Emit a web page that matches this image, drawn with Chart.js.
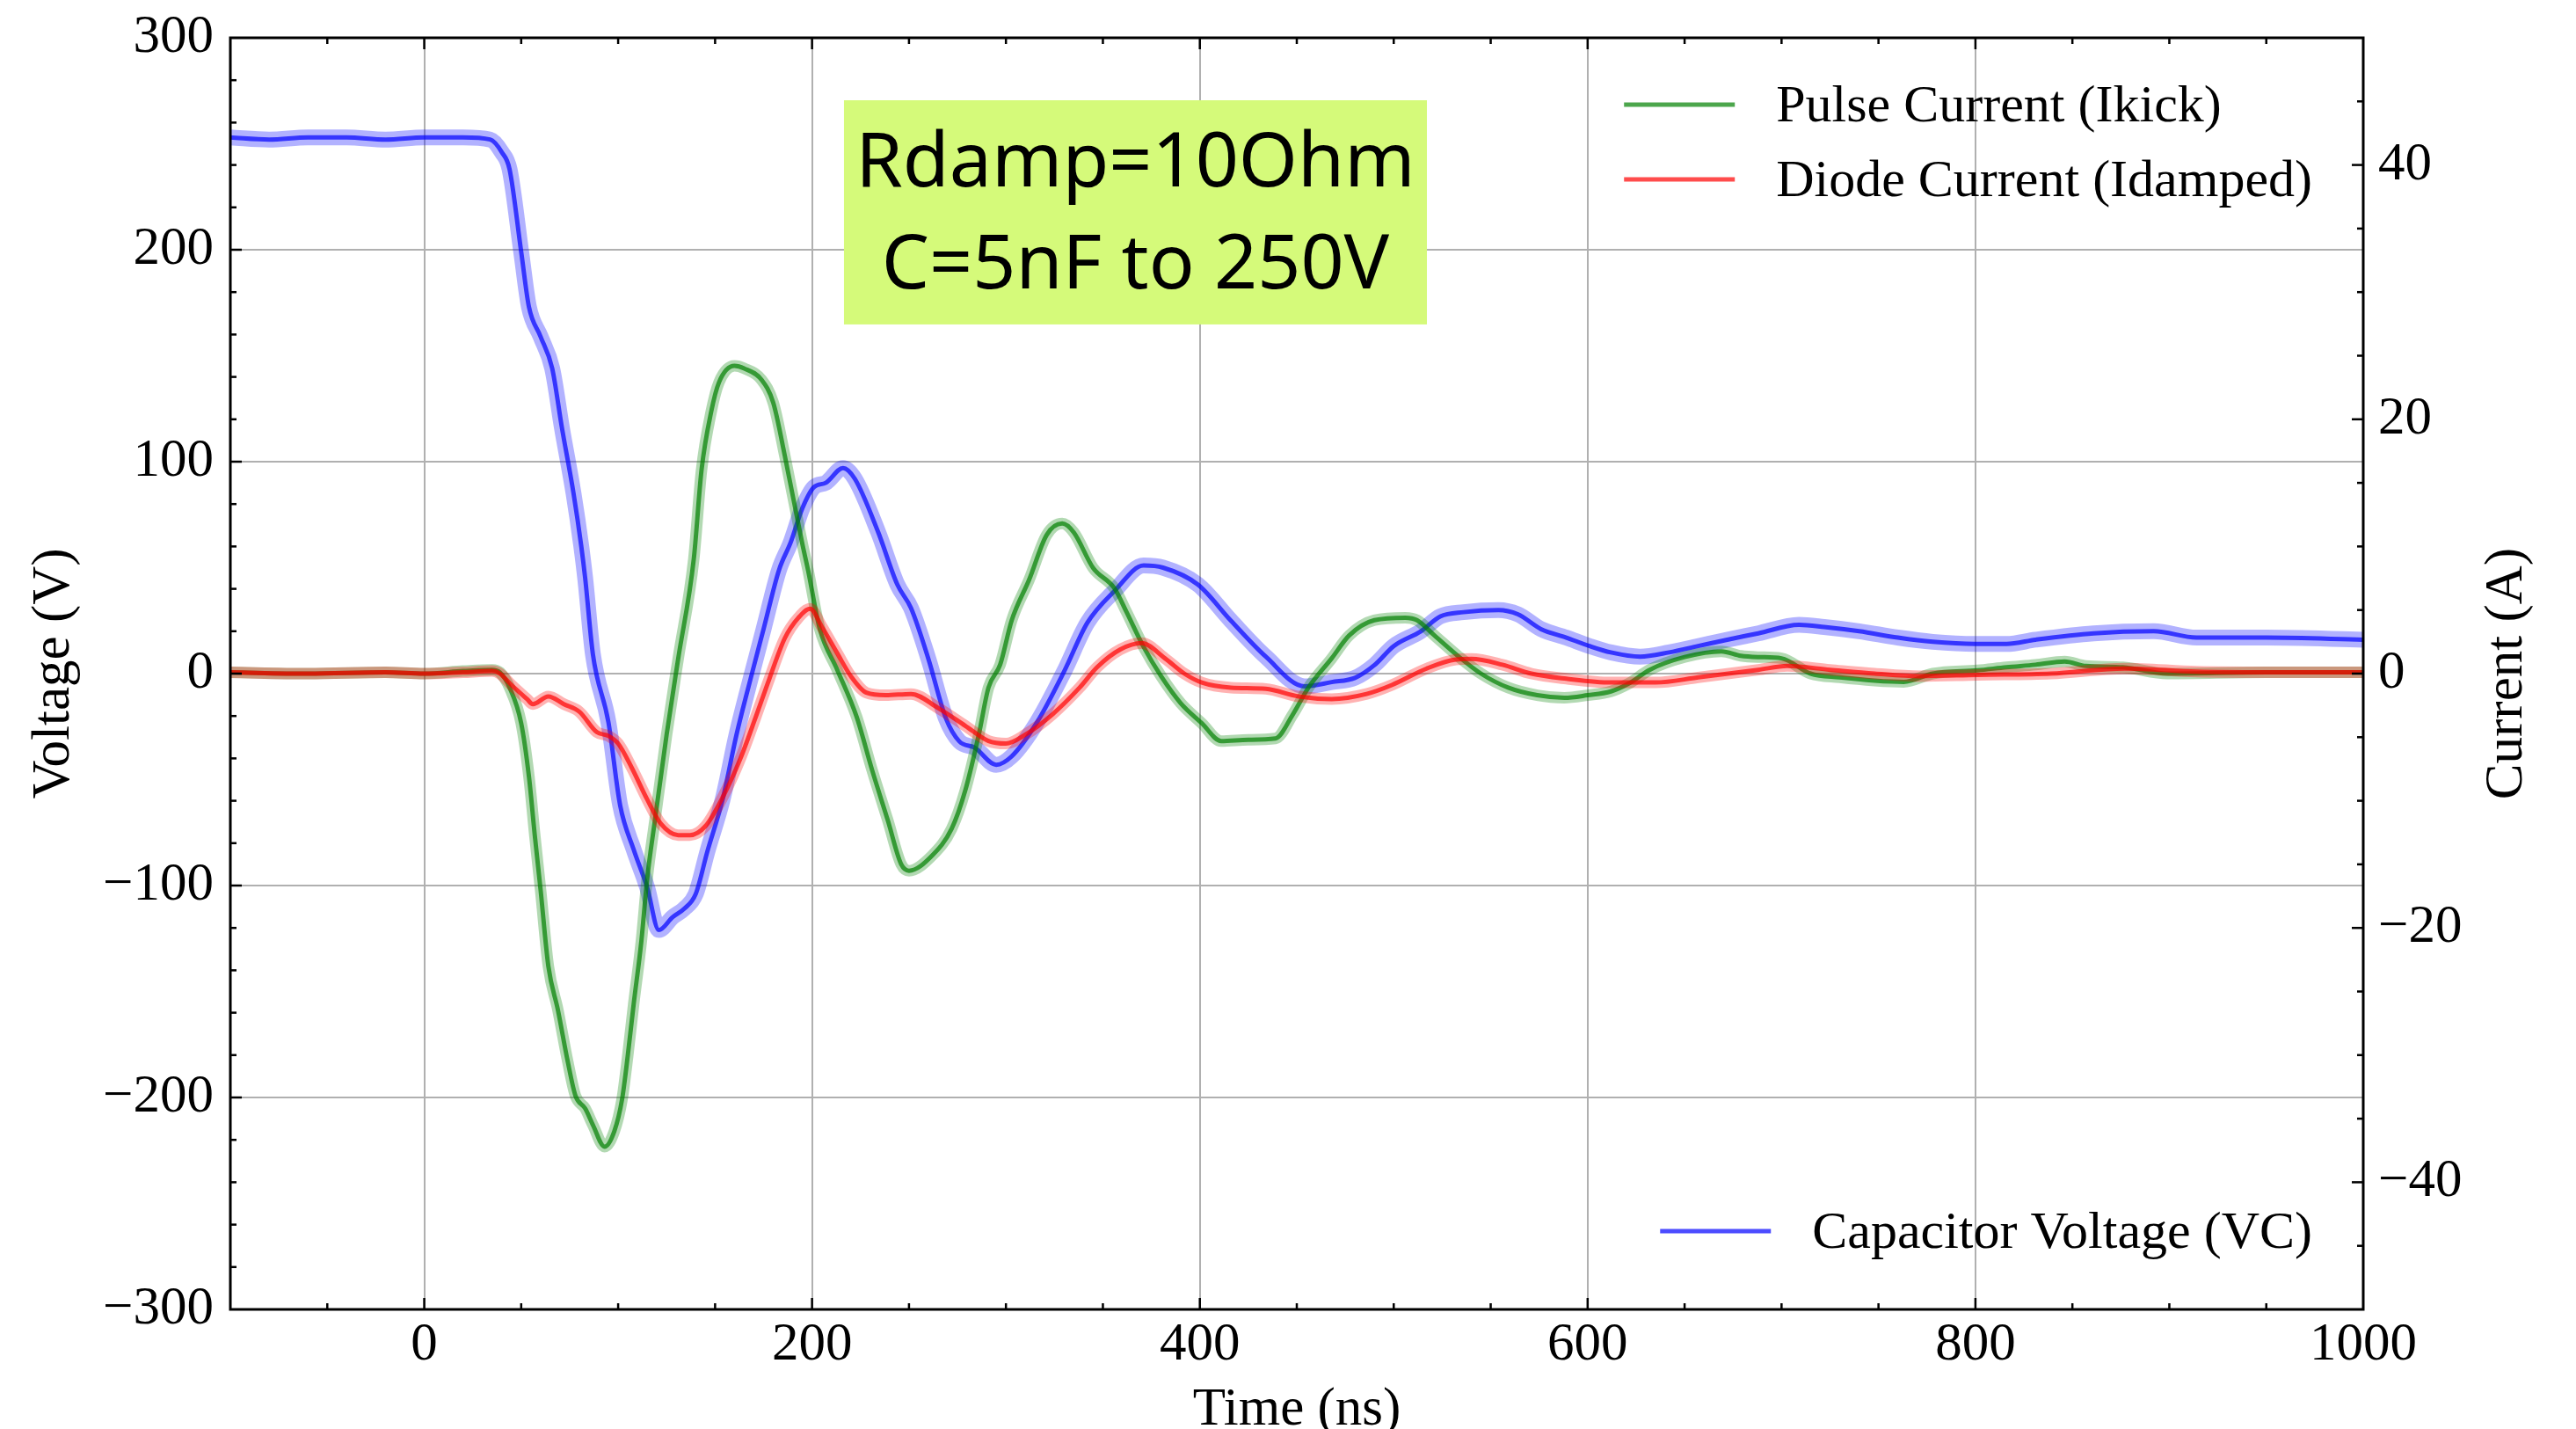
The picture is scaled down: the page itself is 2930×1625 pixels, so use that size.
<!DOCTYPE html>
<html>
<head>
<meta charset="utf-8">
<script src="https://cdn.jsdelivr.net/npm/chart.js@4.4.1/dist/chart.umd.min.js"></script>
<style>
  html, body { margin: 0; padding: 0; background: #fff; }
  canvas { display: block; }
</style>
</head>
<body>
<canvas id="scopeChart" width="2930" height="1625"></canvas>
<script>
// Scope capture of the kicker pulse, damped with 10 Ohm

// capacitor voltage (left axis, V)
const vcTime = [-100, -80, -60, -40, -20, 0, 20, 34, 40, 44, 50, 54, 60, 66, 71, 77, 81, 83, 87, 95, 101, 108, 115, 121, 128, 134, 140, 146, 154, 161, 169, 175, 183, 189, 195, 201, 207, 216, 222, 234, 244, 251, 260, 269, 276, 284, 295, 303, 316, 330, 342, 356, 371, 381, 399, 416, 434, 454, 468, 480, 490, 500, 514, 524, 536, 554, 564, 576, 589, 601, 612, 627, 642, 657, 672, 688, 709, 722, 740, 760, 778, 800, 816, 831, 861, 892, 914, 950, 1000];
const vcVolts = [253, 252, 253, 253, 252, 253, 253, 252, 246, 238, 199, 173, 159, 144, 116, 85, 60, 45, 9, -23, -62, -83, -101, -121, -115, -111, -104, -84, -59, -29, 0, 21, 49, 62, 78, 88, 90, 97, 92, 67, 42, 31, 7, -21, -32, -35, -43, -39, -23, 1, 24, 39, 51, 50, 42, 25, 8, -6, -4, -2, 4, 13, 20, 27, 29, 30, 28, 21, 17, 13, 10, 8, 10, 13, 16, 19, 23, 22, 20, 17, 15, 14, 14, 16, 19, 20, 17, 17, 16];

// pulse current Ikick (right axis, A)
const ikickTime = [-100, -60, -20, 0, 20, 35, 39, 44, 50, 54, 57, 60, 64, 69, 74, 78, 83, 87, 93, 98, 102, 105, 108, 112, 115, 119, 125, 131, 139, 143, 148, 152, 160, 165, 174, 180, 186, 195, 198, 204, 213, 223, 231, 239, 246, 250, 262, 272, 279, 286, 291, 297, 303, 312, 321, 329, 335, 345, 356, 362, 371, 380, 390, 401, 411, 425, 439, 448, 456, 468, 477, 490, 506, 512, 521, 533, 545, 559, 574, 588, 600, 612, 621, 632, 650, 669, 679, 688, 700, 715, 730, 748, 763, 778, 801, 816, 831, 846, 857, 876, 899, 950, 1000];
const ikickAmps = [0.1, 0, 0.1, 0, 0.2, 0.3, 0.1, -1.1, -3.9, -8.1, -12.7, -17, -23, -26.5, -30.5, -33.2, -34.2, -35.5, -37.2, -36, -33.5, -30, -26, -21, -16.1, -11.5, -4.8, 1.2, 9, 16, 20.6, 22.9, 24.2, 24, 23.1, 21.3, 17.1, 10.2, 8.1, 3.5, 0.3, -3.4, -7.6, -11.5, -15, -15.5, -14.3, -12.2, -9.2, -4.8, -1.1, 0.7, 4.2, 7.4, 10.9, 11.8, 11.1, 8.3, 6.7, 4.9, 2.1, -0.2, -2.3, -3.9, -5.3, -5.2, -5.1, -3.2, -1.1, 1.2, 3.0, 4.2, 4.4, 4.2, 3.0, 1.4, 0, -1.1, -1.7, -1.9, -1.7, -1.4, -0.8, 0.3, 1.3, 1.75, 1.4, 1.3, 1.2, 0, -0.3, -0.55, -0.65, 0, 0.26, 0.5, 0.7, 0.95, 0.6, 0.5, 0, 0.1, 0.1];

// diode current Idamped (right axis, A)
const idampTime = [-100, -60, -20, 0, 20, 35, 39, 45, 53, 56, 64, 72, 80, 89, 95, 100, 107, 115, 122, 131, 137, 145, 154, 163, 171, 178, 186, 193, 199, 205, 213, 220, 228, 238, 251, 265, 279, 291, 300, 310, 324, 338, 347, 359, 370, 382, 392, 401, 416, 434, 451, 468, 486, 499, 517, 532, 540, 556, 571, 589, 612, 635, 657, 688, 703, 725, 748, 771, 801, 839, 877, 914, 950, 1000];
const idampAmps = [0.1, 0, 0.1, 0, 0.1, 0.2, 0, -0.9, -2.0, -2.4, -1.8, -2.4, -3.0, -4.6, -4.9, -5.5, -7.4, -9.9, -11.8, -12.7, -12.7, -12, -9.7, -6.7, -3.4, -0.4, 2.8, 4.4, 5.1, 3.7, 1.6, -0.2, -1.5, -1.7, -1.6, -2.7, -4.1, -5.3, -5.5, -4.8, -3.2, -1.1, 0.5, 1.9, 2.4, 1.2, 0, -0.7, -1.1, -1.2, -1.8, -2.0, -1.6, -0.9, 0.4, 1.1, 1.15, 0.7, 0, -0.4, -0.7, -0.7, -0.3, 0.3, 0.6, 0.3, 0, -0.2, -0.1, 0, 0.4, 0.15, 0.1, 0.1];

const timeTicks = [0, 200, 400, 600, 800, 1000];
const voltTicks = [-300, -200, -100, 0, 100, 200, 300];
const currentTicks = [-40, -20, 0, 20, 40];

const noteLines = ['Rdamp=10Ohm', 'C=5nF to 250V'];

const SERIF = "'Liberation Serif', 'Times New Roman', serif";
const TXT = 61;

Chart.defaults.font.family = SERIF;
Chart.defaults.color = '#000';

const toPoints = (xs, ys) => xs.map((x, i) => ({ x: x, y: ys[i] }));
const minus = v => String(v).replace('-', '\u2212');

function trace(label, xs, ys, axis, rgb, width, alpha, order) {
    return {
        label: label,
        data: toPoints(xs, ys),
        yAxisID: axis,
        borderColor: 'rgba(' + rgb + ',' + alpha + ')',
        borderWidth: width,
        pointRadius: 0,
        fill: false,
        cubicInterpolationMode: 'monotone',
        borderJoinStyle: 'round',
        borderCapStyle: 'round',
        order: order
    };
}

// raw (light, wide) traces sit under the filtered ones
const datasets = [
    trace('VC raw', vcTime, vcVolts, 'yV', '0,0,255', 18, 0.3, 6),
    trace('Capacitor Voltage (VC)', vcTime, vcVolts, 'yV', '0,0,255', 5, 0.7, 5),
    trace('Ikick raw', ikickTime, ikickAmps, 'yI', '0,128,0', 13, 0.3, 4),
    trace('Pulse Current (Ikick)', ikickTime, ikickAmps, 'yI', '0,128,0', 5, 0.7, 3),
    trace('Idamped raw', idampTime, idampAmps, 'yI', '255,0,0', 13, 0.3, 2),
    trace('Diode Current (Idamped)', idampTime, idampAmps, 'yI', '255,0,0', 5, 0.7, 1)
];

const gridStyle = { color: '#b0b0b0', lineWidth: 2, drawTicks: false };

// keep the plot box fixed: no extra room for overhanging end labels
const noOverhang = s => { s.paddingTop = 0; s.paddingBottom = 0; s.paddingLeft = 0; s.paddingRight = 0; };

// frame, inward ticks, right label, legends and the note box
const decor = {
    id: 'decor',
    afterDraw(chart) {
        const ctx = chart.ctx;
        const ca = chart.chartArea;
        const sx = chart.scales.x, sv = chart.scales.yV, si = chart.scales.yI;
        ctx.save();

        // note box
        const w = ca.right - ca.left, h = ca.bottom - ca.top;
        const bx0 = ca.left + 0.2877 * w, bx1 = ca.left + 0.561 * w;
        const by0 = ca.top + 0.0491 * h, by1 = ca.top + 0.2254 * h;
        ctx.fillStyle = 'rgb(213,250,122)';
        ctx.fillRect(bx0, by0, bx1 - bx0, by1 - by0);
        ctx.fillStyle = '#000';
        ctx.font = "86px 'Noto Sans', sans-serif";
        ctx.textAlign = 'center';
        ctx.textBaseline = 'alphabetic';
        ctx.fillText(noteLines[0], (bx0 + bx1) / 2, ca.top + 0.1167 * h);
        ctx.fillText(noteLines[1], (bx0 + bx1) / 2, ca.top + 0.1973 * h);

        // frame
        ctx.strokeStyle = '#000';
        ctx.lineWidth = 3;
        ctx.strokeRect(ca.left, ca.top, w, h);

        // inward ticks
        ctx.lineWidth = 2.5;
        const major = 13, minor = 7;
        const hTick = (px, len) => {
            ctx.beginPath();
            ctx.moveTo(px, ca.bottom); ctx.lineTo(px, ca.bottom - len);
            ctx.moveTo(px, ca.top); ctx.lineTo(px, ca.top + len);
            ctx.stroke();
        };
        for (let t = -50; t < 1000; t += 50) {
            hTick(sx.getPixelForValue(t), timeTicks.includes(t) ? major : minor);
        }
        for (let v = -280; v < 300; v += 20) {
            const py = sv.getPixelForValue(v);
            const len = voltTicks.includes(v) ? major : minor;
            ctx.beginPath(); ctx.moveTo(ca.left, py); ctx.lineTo(ca.left + len, py); ctx.stroke();
        }
        for (let a = -45; a < 50; a += 5) {
            const py = si.getPixelForValue(a);
            const len = currentTicks.includes(a) ? major : minor;
            ctx.beginPath(); ctx.moveTo(ca.right, py); ctx.lineTo(ca.right - len, py); ctx.stroke();
        }

        // right axis title, reading upwards like the left one
        ctx.font = TXT + 'px ' + SERIF;
        ctx.textAlign = 'center';
        ctx.textBaseline = 'middle';
        ctx.translate(2852, (ca.top + ca.bottom) / 2);
        ctx.rotate(-Math.PI / 2);
        ctx.fillText('Current (A)', 0, 0);
        ctx.setTransform(1, 0, 0, 1, 0, 0);

        // legends: currents at top right, voltage at bottom right
        ctx.font = '60px ' + SERIF;
        ctx.textAlign = 'left';
        const textRight = ca.right - 58;
        const drawLegend = (items, ys) => {
            const widest = Math.max(...items.map(d => ctx.measureText(d.label).width));
            const tx = textRight - widest;
            items.forEach((d, k) => {
                ctx.strokeStyle = d.borderColor;
                ctx.lineWidth = 5;
                ctx.beginPath();
                ctx.moveTo(tx - 173, ys[k]);
                ctx.lineTo(tx - 47, ys[k]);
                ctx.stroke();
                ctx.fillStyle = '#000';
                ctx.fillText(d.label, tx, ys[k] + 3);
            });
        };
        const ds = chart.data.datasets;
        drawLegend([ds[3], ds[5]], [ca.top + 76, ca.top + 161]);
        drawLegend([ds[1]], [ca.bottom - 89]);

        ctx.restore();
    }
};

new Chart(document.getElementById('scopeChart').getContext('2d'), {
    type: 'line',
    data: { datasets: datasets },
    options: {
        responsive: false,
        devicePixelRatio: 1,
        animation: false,
        layout: { padding: { top: 43, left: 0, right: 0, bottom: 0 } },
        plugins: { legend: { display: false }, tooltip: { enabled: false } },
        scales: {
            x: {
                type: 'linear',
                min: -100,
                max: 1000,
                afterBuildTicks: s => { s.ticks = timeTicks.map(v => ({ value: v })); },
                afterFit: s => { s.height = 136; noOverhang(s); },
                grid: gridStyle,
                border: { display: false },
                ticks: { font: { size: TXT }, padding: 4, autoSkip: false, maxRotation: 0, callback: minus },
                title: { display: true, text: 'Time (ns)', font: { size: TXT }, padding: { top: 0, bottom: -16 } }
            },
            yV: {
                type: 'linear',
                position: 'left',
                min: -300,
                max: 300,
                afterBuildTicks: s => { s.ticks = voltTicks.map(v => ({ value: v })); },
                afterFit: s => { s.width = 262; noOverhang(s); },
                grid: gridStyle,
                border: { display: false },
                ticks: { font: { size: TXT }, padding: 19, autoSkip: false, callback: minus },
                title: { display: true, text: 'Voltage (V)', font: { size: TXT }, padding: { top: 25, bottom: 0 } }
            },
            yI: {
                type: 'linear',
                position: 'right',
                min: -50,
                max: 50,
                afterBuildTicks: s => { s.ticks = currentTicks.map(v => ({ value: v })); },
                afterFit: s => { s.width = 242; noOverhang(s); },
                grid: { display: false, drawTicks: false },
                border: { display: false },
                ticks: { font: { size: TXT }, padding: 17, autoSkip: false, callback: minus }
            }
        }
    },
    plugins: [decor]
});
</script>
</body>
</html>
